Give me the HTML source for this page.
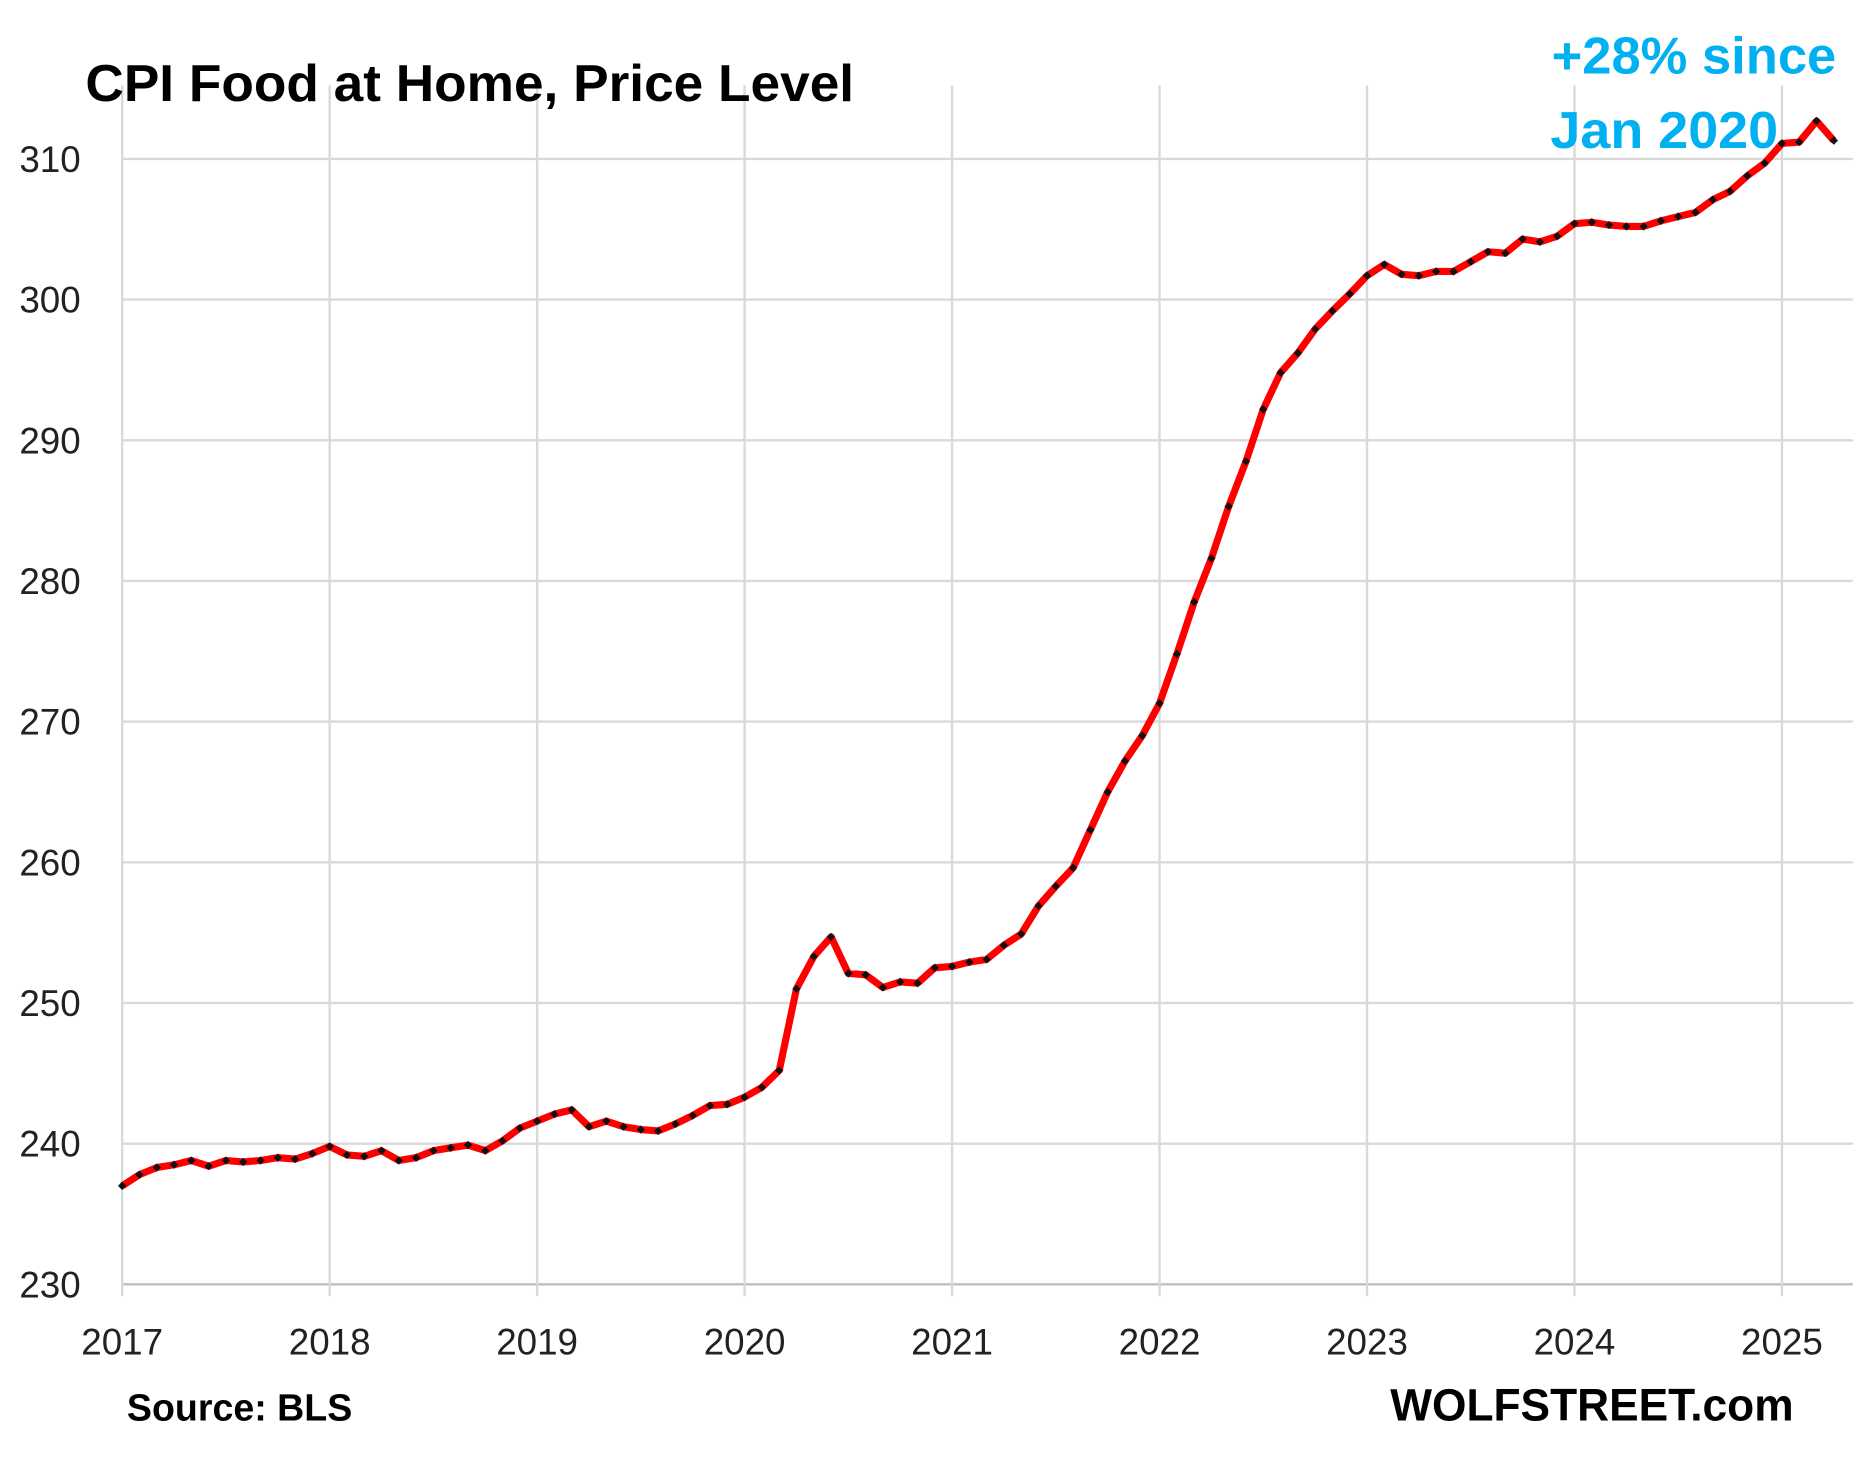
<!DOCTYPE html>
<html><head><meta charset="utf-8"><style>html,body{margin:0;padding:0;background:#fff}svg{display:block}text{font-family:"Liberation Sans",sans-serif}</style></head>
<body>
<svg id="chart" width="1860" height="1461" viewBox="0 0 1568 1232" preserveAspectRatio="none" xmlns="http://www.w3.org/2000/svg">
<rect width="1568" height="1232" fill="#fff"/>
<g id="grid"></g>
<g id="labels"></g>
<text x="72" y="85" font-size="44" font-weight="bold" textLength="648" lengthAdjust="spacingAndGlyphs">CPI Food at Home, Price Level</text>
<text x="1548" y="62" font-size="44" font-weight="bold" fill="#00B0F0" text-anchor="end" textLength="240" lengthAdjust="spacingAndGlyphs">+28% since</text>
<text x="1307" y="125" font-size="44" font-weight="bold" fill="#00B0F0" textLength="192" lengthAdjust="spacingAndGlyphs">Jan 2020</text>
<text x="107" y="1198" font-size="32" font-weight="bold" textLength="190" lengthAdjust="spacingAndGlyphs">Source: BLS</text>
<text x="1512" y="1198" font-size="38" font-weight="bold" text-anchor="end" textLength="340" lengthAdjust="spacingAndGlyphs">WOLFSTREET.com</text>
<g id="series"></g>
</svg>
<script>
const values = [
237.0,237.8,238.3,238.5,238.8,238.4,238.8,238.7,238.8,239.0,238.9,239.3,
239.8,239.2,239.1,239.5,238.8,239.0,239.5,239.7,239.9,239.5,240.2,241.1,
241.6,242.1,242.4,241.2,241.6,241.2,241.0,240.9,241.4,242.0,242.7,242.8,
243.3,244.0,245.2,251.0,253.3,254.7,252.1,252.0,251.1,251.5,251.4,252.5,
252.6,252.9,253.1,254.1,254.9,256.9,258.3,259.6,262.3,265.0,267.2,269.0,
271.3,274.8,278.5,281.6,285.3,288.5,292.2,294.8,296.2,297.9,299.2,300.4,
301.7,302.5,301.8,301.7,302.0,302.0,302.7,303.4,303.3,304.3,304.1,304.5,
305.4,305.5,305.3,305.2,305.2,305.6,305.9,306.2,307.1,307.7,308.8,309.7,
311.1,311.2,312.7,311.3];
const yTicks = [230,240,250,260,270,280,290,300,310];
const xTickYears = [2017,2018,2019,2020,2021,2022,2023,2024,2025];
const startYear = 2017;

const NS="http://www.w3.org/2000/svg";
const X0=103, PXYR=174.9, YB=1083, PXU=11.8625, RIGHT=1562;
function xScale(monthIdx){return X0+monthIdx*PXYR/12;}
function xYear(y){return X0+(y-startYear)*PXYR;}
function yScale(v){return YB-(v-230)*PXU;}
function mk(tag,attrs,parent){const e=document.createElementNS(NS,tag);for(const k in attrs)e.setAttribute(k,attrs[k]);parent.appendChild(e);return e;}
const grid=document.getElementById('grid'), labels=document.getElementById('labels'), series=document.getElementById('series');
yTicks.forEach(t=>{
  const l=mk('line',{x1:X0,x2:RIGHT,y1:yScale(t),y2:yScale(t),stroke:t===230?'#bfbfbf':'#d9d9d9','stroke-width':2},grid);
  
  
  const tx=mk('text',{x:68,y:yScale(t)+11,'font-size':31,'text-anchor':'end',fill:'#222'},labels);
  tx.textContent=t;
  
  
});
xTickYears.forEach(yr=>{
  const x=xYear(yr);
  const l=mk('line',{x1:x,x2:x,y1:72,y2:YB+10,stroke:'#d9d9d9','stroke-width':2},grid);
  
  
  const tx=mk('text',{x:x,y:1142,'font-size':31,'text-anchor':'middle',fill:'#222'},labels);
  tx.textContent=yr;
  
  
});
const pts=values.map((v,i)=>xScale(i).toFixed(1)+','+yScale(v).toFixed(1)).join(' ');
const line=mk('polyline',{points:pts,fill:'none',stroke:'#ff0000','stroke-width':6,'stroke-linejoin':'round'},series);


values.forEach((v,i)=>{
  const x=xScale(i),y=yScale(v);
  const m=mk('polygon',{points:`${x},${y-3.5} ${x+3.5},${y} ${x},${y+3.5} ${x-3.5},${y}`,fill:'#111'},series);
  
  
});
</script>
</body></html>
